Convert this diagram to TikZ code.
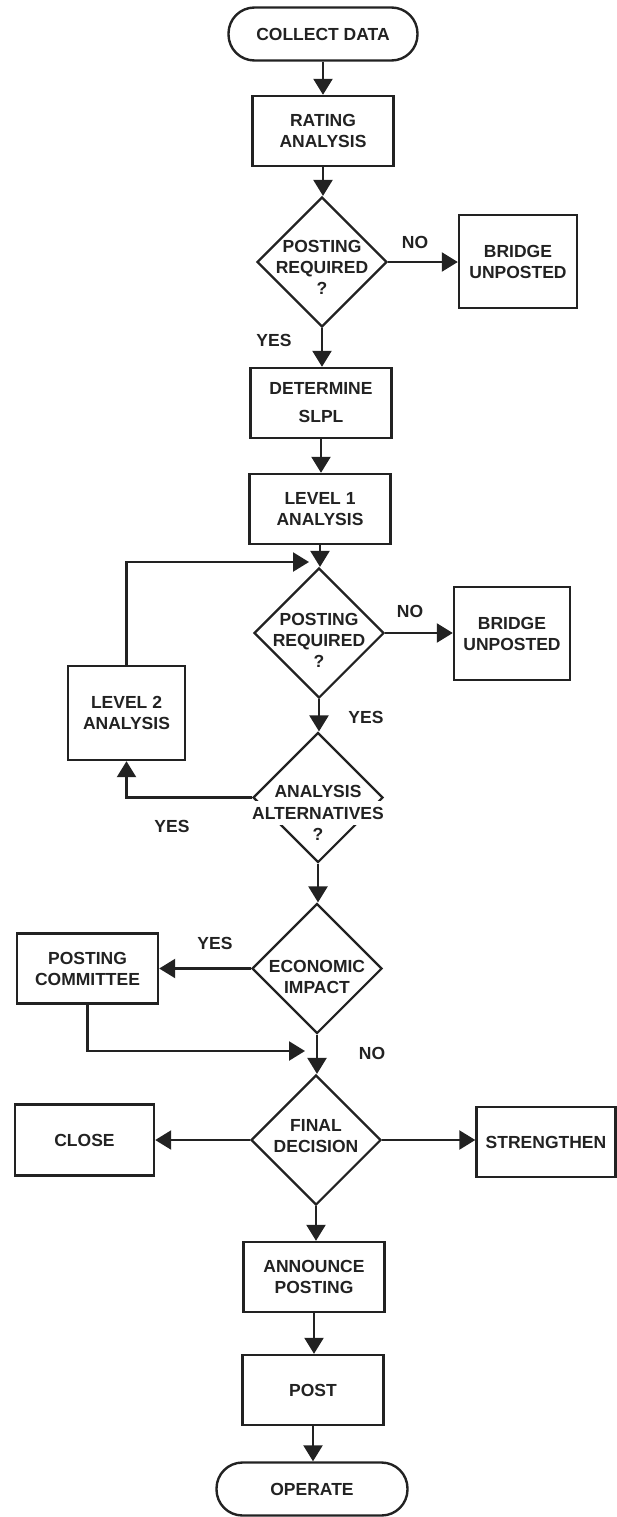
\documentclass[tikz,border=0pt]{standalone}
\usepackage{fontspec}
\setmainfont{Liberation Sans}
\usetikzlibrary{arrows.meta,shapes.geometric}
\definecolor{ink}{HTML}{222222}

\begin{document}
\begin{tikzpicture}[x=1pt, y=-1pt
        , >={Triangle[length=16pt,width=19pt]}
        , every node/.style={ font=\bfseries\fontsize{17.5}{21}\selectfont, align=center, text=ink }
        , line/.style={ draw=ink, line width=2.3pt }
        , box/.style={ draw=ink, line width=2.4pt, inner sep=0pt, minimum width=141pt, minimum height=70pt }
        , term/.style={ box, rounded corners=26pt, minimum width=189pt, minimum height=53pt }
        , decision/.style={ diamond, draw=ink, line width=2.2pt, inner sep=0pt, minimum width=130pt, minimum height=130pt }
        ]

        \useasboundingbox (0,0) rectangle (617,1517);

        % main column
        \node[term] (collect) at (323,34) {COLLECT DATA};
        \node[box] (rating) at (323,131) {RATING\\ANALYSIS};
        \node[decision, label={[yshift=-5pt]center:{POSTING\\REQUIRED\\?}}] (req1) at (322,262) {};
        \node[box] (slpl) at (321,403) {DETERMINE\\[7pt]SLPL};
        \node[box] (lvl1) at (320,509) {LEVEL 1\\ANALYSIS};
        \node[decision, label={[yshift=-7pt]center:{POSTING\\REQUIRED\\?}}] (req2) at (319,633) {};
        \node[decision
              , label={[fill=white, inner xsep=1pt, inner ysep=6pt, yshift=-15.5pt]center:ALTERNATIVES}
              , label={[yshift=6.5pt]center:ANALYSIS}
              , label={[yshift=-36.5pt]center:?}
              ] (alt) at (318,797.5) {};
        \node[decision, label={[yshift=-8pt]center:{ECONOMIC\\IMPACT}}] (econ) at (317,968.5) {};
        \node[decision, label={[yshift=4pt]center:{FINAL\\DECISION}}] (final) at (316,1140) {};
        \node[box] (announce) at (314,1277) {ANNOUNCE\\POSTING};
        \node[box] (post) at (313,1390) {POST};
        \node[term, minimum width=191pt] (operate) at (312,1489) {OPERATE};

        % side boxes
        \node[box, minimum width=118pt, minimum height=93pt] (unp1) at (518,261.5) {BRIDGE\\UNPOSTED};
        \node[box, minimum width=116pt, minimum height=93pt] (unp2) at (512,633.5) {BRIDGE\\UNPOSTED};
        \node[box, minimum width=117pt, minimum height=94pt] (lvl2) at (126.5,713) {LEVEL 2\\ANALYSIS};
        \node[box] (comm) at (87.5,968.5) {POSTING\\COMMITTEE};
        \node[box, minimum width=139pt, minimum height=71pt] (close) at (84.5,1140) {CLOSE};
        \node[box, minimum width=139pt] (strength) at (546,1142) {STRENGTHEN};

        % answers
        \node (no1) at (415,242) {NO};
        \node (yes1) at (274,340) {YES};
        \node (no2) at (410,611) {NO};
        \node (yes2) at (366,717) {YES};
        \node (yes3) at (172,826) {YES};
        \node (yes4) at (215,943) {YES};
        \node (no3) at (372,1053) {NO};

        \coordinate (loopin) at (309,562);
        \coordinate (merge) at (305,1051);

        % flow down the column
        \foreach \a/\b in {collect/rating, rating/req1, req1/slpl, slpl/lvl1, lvl1/req2,
                           req2/alt, alt/econ, econ/final, final/announce,
                           announce/post, post/operate}
            \draw[line,->] (\a.south) -- (\a.south |- \b.north);

        % branches off the decisions
        \draw[line,->] (req1.east) -- (req1.east -| unp1.west);
        \draw[line,->] (req2.east) -- (req2.east -| unp2.west);
        \draw[line,->] (alt.west) -| (lvl2.south);
        \draw[line,->] (lvl2.north) |- (loopin);
        \draw[line,->] (econ.west) -- (comm.east);
        \draw[line,->] (comm.south) |- (merge);
        \draw[line,->] (final.west) -- (close.east);
        \draw[line,->] (final.east) -- (final.east -| strength.west);

    \end{tikzpicture}
\end{document}
